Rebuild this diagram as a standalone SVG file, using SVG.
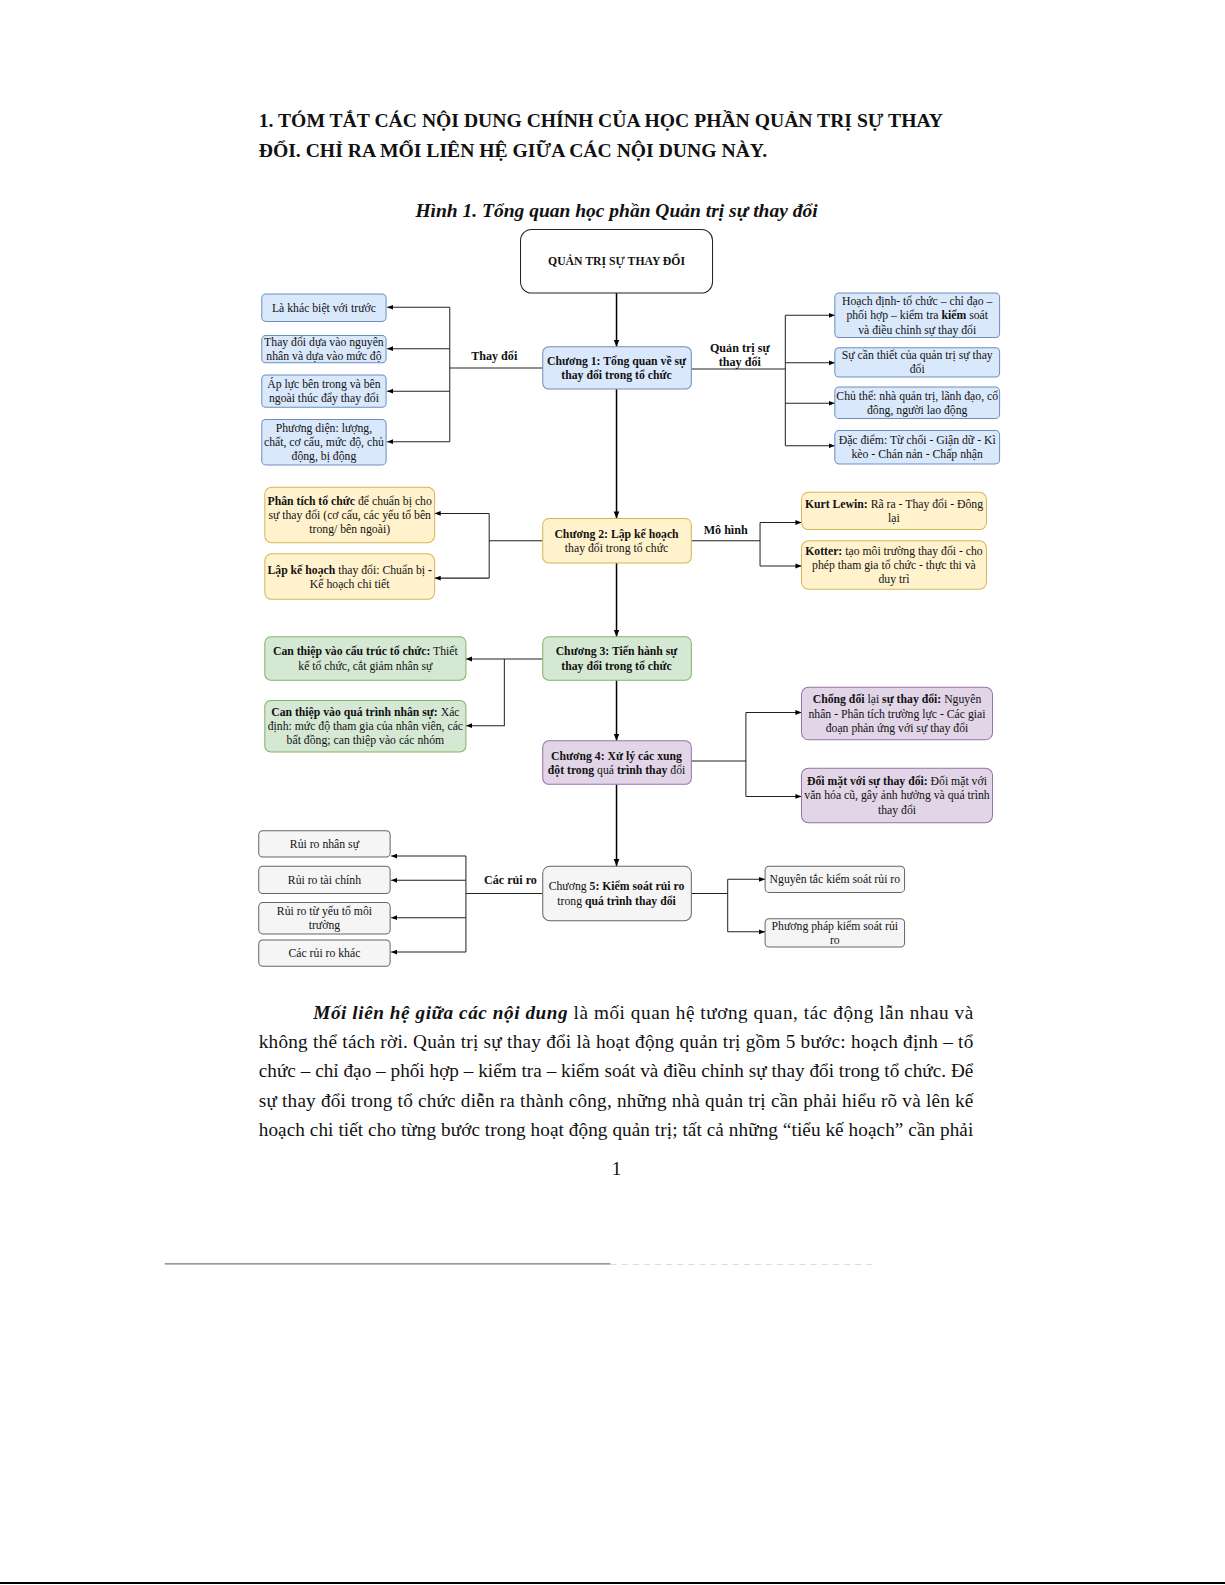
<svg xmlns="http://www.w3.org/2000/svg" width="1225" height="1585" viewBox="0 0 1225 1585">
<style>
text{font-family:"Liberation Serif","Times New Roman",serif;fill:#111}
.t{font-size:11.6px;text-anchor:middle}
.b{font-weight:bold}
.lbl{font-size:12px;font-weight:bold;text-anchor:middle}
.blue{fill:#dae8fc;stroke:#6c8ebf;stroke-width:1}
.yel{fill:#fff2cc;stroke:#d6b656;stroke-width:1}
.grn{fill:#d5e8d4;stroke:#82b366;stroke-width:1}
.pur{fill:#e1d5e7;stroke:#9673a6;stroke-width:1}
.gry{fill:#f5f5f5;stroke:#666;stroke-width:1}
.c{fill:none;stroke:#222;stroke-width:1}
.m{fill:none;stroke:#000;stroke-width:1.5}
.p{font-size:19px}
</style>
<defs>
<marker id="ah" viewBox="0 0 10 10" refX="10" refY="5" markerWidth="6" markerHeight="6" orient="auto" markerUnits="userSpaceOnUse"><path d="M0,1 L10,5 L0,9 Z" fill="#000"/></marker>
<marker id="ahm" viewBox="0 0 10 10" refX="10" refY="5" markerWidth="7" markerHeight="7" orient="auto" markerUnits="userSpaceOnUse"><path d="M0,1 L10,5 L0,9 Z" fill="#000"/></marker>
</defs>
<rect width="1225" height="1585" fill="#fff"/>
<g transform="scale(1.0107)">
<text x="256" y="126" class="p b" textLength="677" lengthAdjust="spacingAndGlyphs">1. TÓM TẮT CÁC NỘI DUNG CHÍNH CỦA HỌC PHẦN QUẢN TRỊ SỰ THAY</text>
<text x="256" y="155" class="p b" textLength="503" lengthAdjust="spacingAndGlyphs">ĐỔI. CHỈ RA MỐI LIÊN HỆ GIỮA CÁC NỘI DUNG NÀY.</text>
<text x="610" y="215" class="p b" font-style="italic" text-anchor="middle" textLength="398" lengthAdjust="spacingAndGlyphs">Hình 1. Tổng quan học phần Quản trị sự thay đổi</text>

<g id="connectors">
<path class="m" d="M610,290 V343" marker-end="url(#ahm)"/>
<path class="m" d="M610,385 V513" marker-end="url(#ahm)"/>
<path class="m" d="M610,557 V630" marker-end="url(#ahm)"/>
<path class="m" d="M610,673 V733" marker-end="url(#ahm)"/>
<path class="m" d="M610,776 V857" marker-end="url(#ahm)"/>
<path class="c" d="M537,364 H445 M445,304 V437"/>
<path class="c" d="M445,304 H383" marker-end="url(#ah)"/>
<path class="c" d="M445,345 H383" marker-end="url(#ah)"/>
<path class="c" d="M445,387 H383" marker-end="url(#ah)"/>
<path class="c" d="M445,437 H383" marker-end="url(#ah)"/>
<path class="c" d="M684,365 H777 M777,312 V441"/>
<path class="c" d="M777,312 H826" marker-end="url(#ah)"/>
<path class="c" d="M777,359 H826" marker-end="url(#ah)"/>
<path class="c" d="M777,399 H826" marker-end="url(#ah)"/>
<path class="c" d="M777,441 H826" marker-end="url(#ah)"/>
<path class="c" d="M537,535 H484 M484,508 V572"/>
<path class="c" d="M484,508 H430" marker-end="url(#ah)"/>
<path class="c" d="M484,572 H430" marker-end="url(#ah)"/>
<path class="c" d="M684,535 H752 M752,517 V560"/>
<path class="c" d="M752,517 H793" marker-end="url(#ah)"/>
<path class="c" d="M752,560 H793" marker-end="url(#ah)"/>
<path class="c" d="M537,652 H461" marker-end="url(#ah)"/>
<path class="c" d="M499,652 V718 H461" marker-end="url(#ah)"/>
<path class="c" d="M684,753 H738 M738,705 V788"/>
<path class="c" d="M738,705 H793" marker-end="url(#ah)"/>
<path class="c" d="M738,788 H793" marker-end="url(#ah)"/>
<path class="c" d="M537,884 H461 M461,847 V942"/>
<path class="c" d="M461,847 H387" marker-end="url(#ah)"/>
<path class="c" d="M461,871 H387" marker-end="url(#ah)"/>
<path class="c" d="M461,908 H387" marker-end="url(#ah)"/>
<path class="c" d="M461,942 H387" marker-end="url(#ah)"/>
<path class="c" d="M684,884 H720 M720,870 V922"/>
<path class="c" d="M720,870 H757" marker-end="url(#ah)"/>
<path class="c" d="M720,922 H757" marker-end="url(#ah)"/>
<text x="489" y="356" class="lbl">Thay đổi</text>
<text x="732" y="348" class="lbl">Quản trị sự</text>
<text x="732" y="362" class="lbl">thay đổi</text>
<text x="718" y="528" class="lbl">Mô hình</text>
<text x="505" y="875" class="lbl">Các rủi ro</text>
</g>

<g id="root">
<rect x="515" y="227" width="190" height="63" rx="11" fill="#fff" stroke="#222" stroke-width="1"/>
<text x="610" y="262" class="t b">QUẢN TRỊ SỰ THAY ĐỔI</text>
</g>

<g id="ch1">
<rect x="537" y="343" width="147" height="42" rx="6" class="blue"/>
<text x="610" y="361" class="t b">Chương 1: Tổng quan về sự</text>
<text x="610" y="375" class="t b">thay đổi trong tổ chức</text>
</g>
<g id="a1"><rect x="259" y="291" width="123" height="27" rx="4" class="blue"/><text x="320.5" y="308.5" class="t">Là khác biệt với trước</text></g>
<g id="a2"><rect x="259" y="332" width="123" height="27" rx="4" class="blue"/><text x="320.5" y="342.5" class="t">Thay đổi dựa vào nguyên</text><text x="320.5" y="356" class="t">nhân và dựa vào mức độ</text></g>
<g id="a3"><rect x="259" y="371" width="123" height="32" rx="4" class="blue"/><text x="320.5" y="384" class="t">Áp lực bên trong và bên</text><text x="320.5" y="398" class="t">ngoài thúc đẩy thay đổi</text></g>
<g id="a4"><rect x="259" y="415" width="123" height="45" rx="4" class="blue"/><text x="320.5" y="427" class="t">Phương diện: lượng,</text><text x="320.5" y="441" class="t">chất, cơ cấu, mức độ, chủ</text><text x="320.5" y="455" class="t">động, bị động</text></g>

<g id="b1"><rect x="826" y="290" width="163" height="44" rx="4" class="blue"/><text x="907.5" y="302" class="t">Hoạch định- tổ chức – chỉ đạo –</text><text x="907.5" y="316" class="t">phối hợp – kiểm tra <tspan class="b">kiểm</tspan> soát</text><text x="907.5" y="330" class="t">và điều chỉnh sự thay đổi</text></g>
<g id="b2"><rect x="826" y="344" width="163" height="29" rx="4" class="blue"/><text x="907.5" y="355.5" class="t">Sự cần thiết của quản trị sự thay</text><text x="907.5" y="369.5" class="t">đổi</text></g>
<g id="b3"><rect x="826" y="383" width="163" height="31" rx="4" class="blue"/><text x="907.5" y="395.5" class="t">Chủ thể: nhà quản trị, lãnh đạo, cổ</text><text x="907.5" y="409.5" class="t">đông, người lao động</text></g>
<g id="b4"><rect x="826" y="426" width="163" height="33" rx="4" class="blue"/><text x="907.5" y="439" class="t">Đặc điểm: Từ chối - Giận dữ - Kì</text><text x="907.5" y="453" class="t">kèo - Chán nản - Chấp nhận</text></g>

<g id="ch2">
<rect x="537" y="513" width="147" height="44" rx="6" class="yel"/>
<text x="610" y="532" class="t"><tspan class="b">Chương 2: Lập kế hoạch</tspan></text>
<text x="610" y="546" class="t">thay đổi trong tổ chức</text>
</g>
<g id="c1"><rect x="262" y="482" width="168" height="55" rx="7" class="yel"/><text x="346" y="499.5" class="t"><tspan class="b">Phân tích tổ chức</tspan> để chuẩn bị cho</text><text x="346" y="513.5" class="t">sự thay đổi (cơ cấu, các yếu tố bên</text><text x="346" y="527.5" class="t">trong/ bên ngoài)</text></g>
<g id="c2"><rect x="262" y="548" width="168" height="45" rx="7" class="yel"/><text x="346" y="567.5" class="t"><tspan class="b">Lập kế hoạch</tspan> thay đổi: Chuẩn bị <tspan class="b">-</tspan></text><text x="346" y="581.5" class="t">Kế hoạch chi tiết</text></g>
<g id="d1"><rect x="793" y="487" width="183" height="37" rx="7" class="yel"/><text x="884.5" y="502.5" class="t"><tspan class="b">Kurt Lewin:</tspan> Rã ra - Thay đổi - Đông</text><text x="884.5" y="516.5" class="t">lại</text></g>
<g id="d2"><rect x="793" y="535" width="183" height="48" rx="7" class="yel"/><text x="884.5" y="549" class="t"><tspan class="b">Kotter:</tspan> tạo môi trường thay đổi - cho</text><text x="884.5" y="563" class="t">phép tham gia tổ chức - thực thi và</text><text x="884.5" y="577" class="t">duy trì</text></g>

<g id="ch3">
<rect x="537" y="630" width="147" height="43" rx="6" class="grn"/>
<text x="610" y="648.5" class="t b">Chương 3: Tiến hành sự</text>
<text x="610" y="662.5" class="t b">thay đổi trong tổ chức</text>
</g>
<g id="e1"><rect x="262" y="630" width="199" height="43" rx="6" class="grn"/><text x="361.5" y="648.5" class="t"><tspan class="b">Can thiệp vào cấu trúc tổ chức:</tspan> Thiết</text><text x="361.5" y="662.5" class="t">kế tổ chức, cắt giảm nhân sự</text></g>
<g id="e2"><rect x="262" y="693" width="199" height="51" rx="6" class="grn"/><text x="361.5" y="708.5" class="t"><tspan class="b">Can thiệp vào quá trình nhân sự:</tspan> Xác</text><text x="361.5" y="722.5" class="t">định: mức độ tham gia của nhân viên, các</text><text x="361.5" y="736.5" class="t">bất đồng; can thiệp vào các nhóm</text></g>

<g id="ch4">
<rect x="537" y="733" width="147" height="43" rx="6" class="pur"/>
<text x="610" y="751.5" class="t b">Chương 4: Xử lý các xung</text>
<text x="610" y="765.5" class="t"><tspan class="b">đột trong</tspan> quá <tspan class="b">trình thay</tspan> đổi</text>
</g>
<g id="f1"><rect x="793" y="680" width="189" height="52" rx="7" class="pur"/><text x="887.5" y="696" class="t"><tspan class="b">Chống đối</tspan> lại <tspan class="b">sự thay đổi:</tspan> Nguyên</text><text x="887.5" y="710" class="t">nhân - Phân tích trường lực - Các giai</text><text x="887.5" y="724" class="t">đoạn phản ứng với sự thay đổi</text></g>
<g id="f2"><rect x="793" y="760" width="189" height="54" rx="7" class="pur"/><text x="887.5" y="777" class="t"><tspan class="b">Đối mặt với sự thay đổi:</tspan> Đối mặt với</text><text x="887.5" y="791" class="t">văn hóa cũ, gây ảnh hưởng và quá trình</text><text x="887.5" y="805" class="t">thay đổi</text></g>

<g id="ch5">
<rect x="537" y="857" width="147" height="54" rx="7" class="gry"/>
<text x="610" y="881" class="t">Chương <tspan class="b">5: Kiểm soát rủi ro</tspan></text>
<text x="610" y="895" class="t">trong <tspan class="b">quá trình thay đổi</tspan></text>
</g>
<g id="g1"><rect x="256" y="822" width="130" height="26" rx="4" class="gry"/><text x="321" y="839" class="t">Rủi ro nhân sự</text></g>
<g id="g2"><rect x="256" y="857" width="130" height="27" rx="4" class="gry"/><text x="321" y="874.5" class="t">Rủi ro tài chính</text></g>
<g id="g3"><rect x="256" y="893" width="130" height="31" rx="4" class="gry"/><text x="321" y="905.5" class="t">Rủi ro từ yếu tố môi</text><text x="321" y="919.5" class="t">trường</text></g>
<g id="g4"><rect x="256" y="930" width="130" height="26" rx="4" class="gry"/><text x="321" y="947" class="t">Các rủi ro khác</text></g>
<g id="h1"><rect x="757" y="857" width="138" height="26" rx="4" class="gry"/><text x="826" y="874" class="t">Nguyên tắc kiểm soát rủi ro</text></g>
<g id="h2"><rect x="757" y="909" width="138" height="28" rx="4" class="gry"/><text x="826" y="920" class="t">Phương pháp kiểm soát rủi</text><text x="826" y="934" class="t">ro</text></g>

<g id="paragraph">
<text x="310" y="1008" class="p" textLength="653" lengthAdjust="spacing"><tspan font-weight="bold" font-style="italic">Mối liên hệ giữa các nội dung</tspan> là mối quan hệ tương quan, tác động lẫn nhau và</text>
<text x="256" y="1037" class="p" textLength="707" lengthAdjust="spacing">không thể tách rời. Quản trị sự thay đổi là hoạt động quản trị gồm 5 bước: hoạch định – tổ</text>
<text x="256" y="1066" class="p" textLength="707" lengthAdjust="spacing">chức – chỉ đạo – phối hợp – kiểm tra – kiểm soát và điều chỉnh sự thay đổi trong tổ chức. Để</text>
<text x="256" y="1095" class="p" textLength="707" lengthAdjust="spacing">sự thay đổi trong tổ chức diễn ra thành công, những nhà quản trị cần phải hiểu rõ và lên kế</text>
<text x="256" y="1124" class="p" textLength="707" lengthAdjust="spacing">hoạch chi tiết cho từng bước trong hoạt động quản trị; tất cả những “tiểu kế hoạch” cần phải</text>
<text x="610" y="1163" class="p" font-size="17" text-anchor="middle">1</text>
</g>

<line x1="163" y1="1250.5" x2="604" y2="1250.5" stroke="#777" stroke-width="1.2"/>
<line x1="604" y1="1251" x2="865" y2="1251" stroke="#ddd" stroke-width="1" stroke-dasharray="6 5"/>
</g>
<line x1="0" y1="1583" x2="1225" y2="1583" stroke="#000" stroke-width="2"/>
</svg>
